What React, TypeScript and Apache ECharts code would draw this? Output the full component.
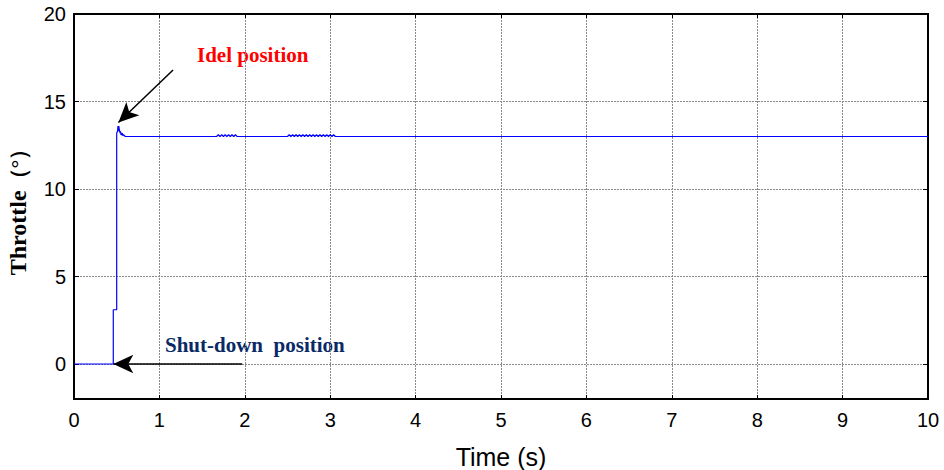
import React, { useEffect, useRef } from "react";
import * as echarts from "echarts";

const xTicks = [0, 1, 2, 3, 4, 5, 6, 7, 8, 9, 10];
const yTicks = [0, 5, 10, 15, 20];

// Throttle response: start-up step
const startTimes = [0, 0.46, 0.46, 0.5, 0.5, 0.51, 0.515, 0.52, 0.525, 0.53, 0.54, 0.545, 0.55, 0.56, 0.565, 0.57, 0.58, 0.6];
const startValues = [0, 0, 3.1, 3.1, 13.2, 13.3, 13.6, 13.3, 13.6, 13.4, 13.2, 13.3, 13.1, 13.1, 13.2, 13.05, 13.1, 13.0];

// small chatter around 1.7-1.9 s
const chatter1Times = [1.67, 1.69, 1.71, 1.73, 1.75, 1.77, 1.79, 1.81, 1.83, 1.85, 1.87, 1.89, 1.91];
const chatter1Values = [13.0, 13.1, 13.0, 13.1, 13.0, 13.1, 13.0, 13.1, 13.0, 13.1, 13.0, 13.1, 13.0];

// small chatter around 2.5-3.05 s
const chatter2Times = [2.5, 2.52, 2.54, 2.56, 2.58, 2.6, 2.62, 2.64, 2.66, 2.68, 2.7, 2.72, 2.74, 2.76, 2.78, 2.8, 2.82, 2.84, 2.86, 2.88, 2.9, 2.92, 2.94, 2.96, 2.98, 3.0, 3.02, 3.04, 3.06];
const chatter2Values = [13.0, 13.1, 13.0, 13.1, 13.0, 13.1, 13.0, 13.1, 13.0, 13.1, 13.0, 13.1, 13.0, 13.1, 13.0, 13.1, 13.0, 13.1, 13.0, 13.1, 13.0, 13.1, 13.0, 13.1, 13.0, 13.1, 13.0, 13.1, 13.0];

const endTimes = [10];
const endValues = [13.0];

export default function App() {
  const ref = useRef<HTMLDivElement>(null);
  useEffect(() => {
    if (!ref.current) return;
    const chart = echarts.init(ref.current, null, { renderer: "svg" });
    const data: number[][] = [];
    const push = (ts: number[], vs: number[]) => ts.forEach((t, i) => data.push([t, vs[i]]));
    push(startTimes, startValues);
    push(chatter1Times, chatter1Values);
    push(chatter2Times, chatter2Values);
    push(endTimes, endValues);

    const tickLabel = { fontFamily: "Liberation Sans, Arial, sans-serif", fontSize: 20, color: "#000" };
    const splitLine = { show: true, lineStyle: { color: "#8a8a8a", type: [2, 1] as any, width: 1 } };
    const serif = "Liberation Serif, Times New Roman, serif";

    chart.setOption({
      animation: false,
      backgroundColor: "#fff",
      grid: {
        left: 74, right: 16, top: 14, bottom: 71, show: true, borderColor: "#000", borderWidth: 1.5,
        backgroundColor: "transparent", outerBoundsMode: "none", containLabel: false,
      },
      xAxis: [
        {
          type: "value", min: 0, max: 10, interval: 1,
          axisLine: { show: true, onZero: false, lineStyle: { color: "#000", width: 2 } },
          axisTick: { show: true, inside: true, length: 4, lineStyle: { color: "#000" } },
          axisLabel: { ...tickLabel, margin: 11, customValues: xTicks },
          splitLine,
          name: "Time (s)", nameLocation: "middle", nameGap: 45,
          nameTextStyle: { fontFamily: "Liberation Sans, Arial, sans-serif", fontSize: 25, color: "#000" },
        },
        {
          type: "value", min: 0, max: 10, interval: 1, position: "top",
          axisLine: { show: true, onZero: false, lineStyle: { color: "#000", width: 2 } },
          axisTick: { show: true, inside: true, length: 4, lineStyle: { color: "#000" } },
          axisLabel: { show: false }, splitLine: { show: false },
        },
      ],
      yAxis: [
        {
          type: "value", min: -2, max: 20,
          axisLine: { show: true, onZero: false, lineStyle: { color: "#000", width: 2 } },
          axisTick: { show: true, inside: true, length: 5, lineStyle: { color: "#000" }, customValues: yTicks },
          axisLabel: { ...tickLabel, margin: 8, customValues: yTicks },
          splitLine,
          name: "{a|Throttle}{b|（°）}", nameLocation: "middle", nameGap: 44,
          nameTextStyle: {
            fontFamily: serif, fontWeight: "bold", fontSize: 24, color: "#000",
            rich: {
              a: { fontFamily: serif, fontWeight: "bold", fontSize: 24, color: "#000" },
              b: { fontFamily: serif, fontWeight: "bold", fontSize: 22, color: "#000" },
            },
          },
        },
        {
          type: "value", min: -2, max: 20, position: "right",
          axisLine: { show: true, onZero: false, lineStyle: { color: "#000", width: 2 } },
          axisTick: { show: true, inside: true, length: 5, lineStyle: { color: "#000" }, customValues: yTicks },
          axisLabel: { show: false }, splitLine: { show: false },
        },
      ],
      series: [
        {
          type: "line",
          data,
          showSymbol: false,
          lineStyle: { color: "#0000ff", width: 1.2 },
          z: 5,
          markLine: {
            silent: true,
            symbol: ["none", "arrow"],
            symbolSize: [14, 20],
            label: { show: false },
            lineStyle: { color: "#000", width: 1.5, type: "solid" },
            data: [
              [{ coord: [1.16, 16.8] }, { coord: [0.52, 13.8] }],
              [{ coord: [1.97, 0] }, { coord: [0.46, 0] }],
            ],
          },
        },
      ],
      graphic: [
        {
          type: "text", left: 197, top: 44,
          style: { text: "Idel position", fill: "#ff0000", font: "bold 21px 'Liberation Serif', 'Times New Roman', serif" },
        },
        {
          type: "text", left: 165, top: 334,
          style: { text: "Shut-down  position", fill: "#0a2a66", font: "bold 21px 'Liberation Serif', 'Times New Roman', serif" },
        },
      ],
    });
    return () => chart.dispose();
  }, []);
  return <div ref={ref} style={{ width: 944, height: 470, position: "absolute", left: 0, top: 0 }} />;
}
